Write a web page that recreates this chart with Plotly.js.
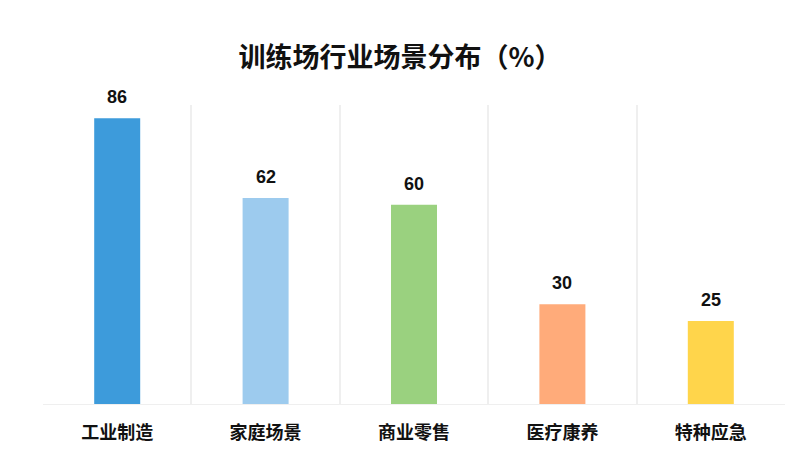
<!DOCTYPE html>
<html>
<head>
<meta charset="utf-8">
<script src="https://cdn.plot.ly/plotly-3.0.1.min.js"></script>
<style>html,body{margin:0;padding:0;background:#fff;}#chart{width:800px;height:464px;}</style>
</head>
<body>
<div id="chart"></div>
<script>
const categories = ['工业制造', '家庭场景', '商业零售', '医疗康养', '特种应急'];
const values = [86, 62, 60, 30, 25];
const barColors = ['#3D9BDB', '#9DCBEE', '#9AD17F', '#FFAB7A', '#FFD54B'];
const boundaryTicks = [-0.5, 0.5, 1.5, 2.5, 3.5, 4.5];

const cjk = '"Noto Sans CJK SC", "Noto Sans", sans-serif';
const num = '"Liberation Sans", Arial, sans-serif';

const bars = {
  type: 'bar',
  x: categories,
  y: values,
  width: 0.31,
  marker: {color: barColors, line: {width: 0}},
  hoverinfo: 'skip',
  showlegend: false
};

// invisible trace on the second x axis so its boundary gridlines render
const gridTrace = {
  type: 'scatter',
  x: boundaryTicks,
  y: boundaryTicks.map(() => 0),
  xaxis: 'x2',
  mode: 'markers',
  marker: {opacity: 0},
  hoverinfo: 'skip',
  showlegend: false
};

const annotations = categories.map((c, i) => ({
  x: c, y: values[i], xref: 'x', yref: 'y',
  text: '<b>' + values[i] + '</b>',
  showarrow: false, yanchor: 'bottom', yshift: 9,
  font: {family: num, size: 18, color: '#111'}
}));

const layout = {
  width: 800, height: 464,
  margin: {l: 43, r: 15, t: 105, b: 60},
  paper_bgcolor: '#ffffff',
  plot_bgcolor: '#ffffff',
  title: {
    text: '<b>训练场行业场景分布（%）</b>',
    font: {family: cjk, size: 27, color: '#111'},
    x: 0.5, xanchor: 'center', y: 0.875, yanchor: 'middle'
  },
  xaxis: {
    type: 'category',
    showgrid: false, zeroline: false, showline: false,
    ticks: 'outside', ticklen: 12, tickcolor: 'rgba(0,0,0,0)',
    tickfont: {family: cjk, size: 18, color: '#111', weight: 'bold'},
    fixedrange: true
  },
  xaxis2: {
    overlaying: 'x', side: 'bottom',
    range: [-0.5, 4.5],
    tickmode: 'array', tickvals: boundaryTicks,
    showticklabels: false, ticks: '',
    showgrid: true, gridcolor: '#EFEFEF', gridwidth: 2,
    zeroline: false, showline: false, fixedrange: true
  },
  yaxis: {
    range: [0, 90],
    showgrid: false, zeroline: true, zerolinecolor: '#EFEFEF', zerolinewidth: 1,
    showticklabels: false, showline: false, ticks: '', fixedrange: true
  },
  annotations: annotations,
  bargap: 0.69
};

Plotly.newPlot('chart', [gridTrace, bars], layout, {displayModeBar: false, staticPlot: true});
</script>
</body>
</html>
